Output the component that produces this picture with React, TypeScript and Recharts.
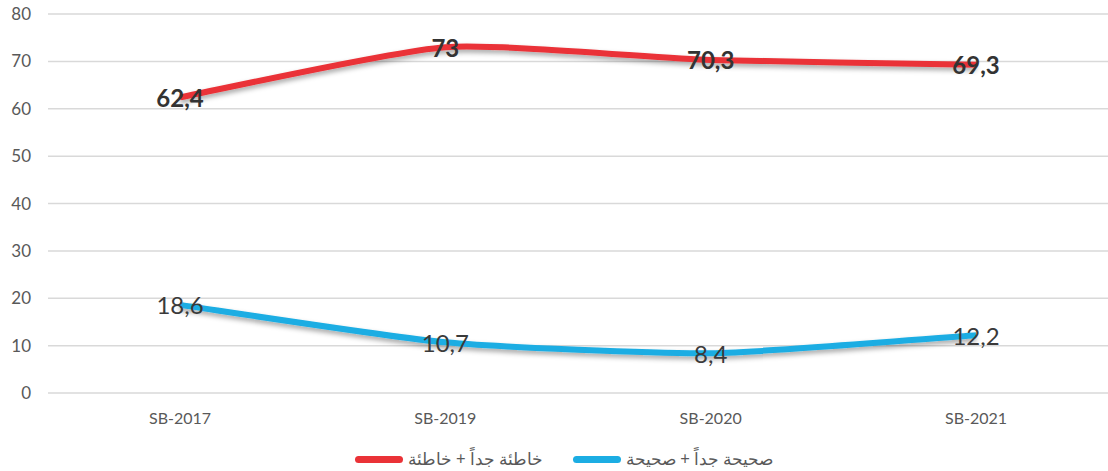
import { CartesianGrid, LabelList, Legend, Line, LineChart, XAxis, YAxis } from "recharts"

const categories = ["SB-2017", "SB-2019", "SB-2020", "SB-2021"]
const wrongValues = [62.4, 73, 70.3, 69.3]
const correctValues = [18.6, 10.7, 8.4, 12.2]
const yTicks = [0, 10, 20, 30, 40, 50, 60, 70, 80]

const wrongName = "خاطئة جداً + خاطئة"
const correctName = "صحيحة جداً + صحيحة"

const data = categories.map((name, i) => ({
  name,
  wrong: wrongValues[i],
  correct: correctValues[i],
}))

const RED = "#EA3237"
const BLUE = "#1CADE3"
const FONT = "Lato, 'Open Sans', sans-serif"

const fmt = (v: number) => String(v).replace(".", ",")

// gently smoothed line (cardinal spline with a low tension)
function smoothCurve(context: any) {
  let pts: number[][] = []
  const k = 10
  return {
    areaStart() {},
    areaEnd() {},
    lineStart() {
      pts = []
    },
    lineEnd() {
      if (!pts.length) return
      context.moveTo(pts[0][0], pts[0][1])
      for (let i = 0; i < pts.length - 1; i++) {
        const p0 = pts[Math.max(i - 1, 0)]
        const p1 = pts[i]
        const p2 = pts[i + 1]
        const p3 = pts[Math.min(i + 2, pts.length - 1)]
        context.bezierCurveTo(
          p1[0] + (p2[0] - p0[0]) / k,
          p1[1] + (p2[1] - p0[1]) / k,
          p2[0] - (p3[0] - p1[0]) / k,
          p2[1] - (p3[1] - p1[1]) / k,
          p2[0],
          p2[1]
        )
      }
    },
    point(x: number, y: number) {
      pts.push([+x, +y])
    },
  }
}

function makeLabel(bold: boolean) {
  return (props: any) => {
    const { x, y, value } = props
    return (
      <text
        x={x}
        y={y}
        textAnchor="middle"
        dominantBaseline="central"
        fontFamily={FONT}
        fontSize={24}
        fontWeight={bold ? 700 : 400}
        fill={bold ? "#333333" : "#3a3a3a"}
      >
        {fmt(value)}
      </text>
    )
  }
}

function LegendContent(props: any) {
  const items = props.payload || []
  return (
    <div
      style={{
        display: "flex",
        justifyContent: "center",
        alignItems: "center",
        height: 24,
        paddingLeft: 20,
        fontFamily: FONT,
        fontSize: 16.5,
        color: "#595959",
      }}
    >
      {items.map((it: any, i: number) => (
        <div key={i} style={{ display: "flex", alignItems: "center", marginRight: i === 0 ? 30 : 0 }}>
          <span
            style={{
              display: "inline-block",
              width: 48,
              height: 7,
              borderRadius: 4,
              background: it.color,
              marginRight: 5,
            }}
          />
          <span dir="rtl">{it.value}</span>
        </div>
      ))}
    </div>
  )
}

export default function App() {
  return (
    <div style={{ position: "absolute", left: 0, top: 0, width: 1108, height: 471, background: "#fff" }}>
      <svg width={0} height={0} style={{ position: "absolute" }}>
        <defs>
          <filter id="lineShadow" filterUnits="userSpaceOnUse" x={0} y={0} width={1108} height={471}>
            <feDropShadow dx={0} dy={3} stdDeviation={2.5} floodColor="#000" floodOpacity={0.35} />
          </filter>
        </defs>
      </svg>
      <LineChart width={1108} height={471} data={data} margin={{ top: 14, right: 0, bottom: 0, left: 0 }}>
        <CartesianGrid vertical={false} stroke="#D9D9D9" strokeWidth={1.5} />
        <XAxis
          dataKey="name"
          axisLine={false}
          tickLine={false}
          tickSize={0}
          tickMargin={20}
          height={54}
          padding={{ left: 132, right: 132 }}
          tick={{ fill: "#595959", fontSize: 16, fontFamily: FONT }}
        />
        <YAxis
          domain={[0, 80]}
          ticks={yTicks}
          width={48}
          axisLine={false}
          tickLine={false}
          tickSize={0}
          tickMargin={17}
          tick={{ fill: "#595959", fontSize: 17, fontFamily: FONT }}
        />
        <Legend verticalAlign="bottom" content={<LegendContent />} wrapperStyle={{ bottom: 0 }} />
        <Line
          type={smoothCurve as any}
          dataKey="wrong"
          name={wrongName}
          stroke={RED}
          strokeWidth={6}
          dot={false}
          activeDot={false}
          filter="url(#lineShadow)"
          isAnimationActive={false}
        >
          <LabelList dataKey="wrong" content={makeLabel(true)} />
        </Line>
        <Line
          type={smoothCurve as any}
          dataKey="correct"
          name={correctName}
          stroke={BLUE}
          strokeWidth={6}
          dot={false}
          activeDot={false}
          filter="url(#lineShadow)"
          isAnimationActive={false}
        >
          <LabelList dataKey="correct" content={makeLabel(false)} />
        </Line>
      </LineChart>
    </div>
  )
}
